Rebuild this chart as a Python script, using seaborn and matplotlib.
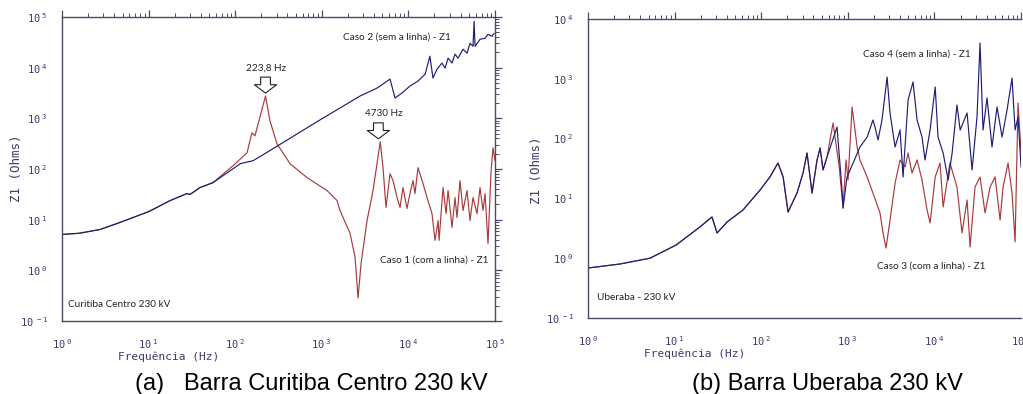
import numpy as np
import pandas as pd
import matplotlib
matplotlib.use('Agg')
import matplotlib.pyplot as plt
import matplotlib.ticker as mticker
import seaborn as sns

# (a) Barra Curitiba Centro 230 kV
freq_caso1 = [1, 1.6, 2.75, 4.67, 10.1, 17.7, 27.7, 30, 39.2, 55.4,
              94.3, 137, 156, 169, 223.8, 252, 304, 430, 675, 1150, 1500, 1620, 2120, 2420, 2620, 2840,
              3330, 3900, 4730, 5090, 5510, 6130, 6640, 7390, 8000, 8660, 9640, 10400, 11300,
              11900, 12900, 14400, 16400, 18700, 20300, 22000, 22600, 25100, 27200, 28700,
              31900, 34500, 36400, 39400, 42700, 47500, 51400, 55700, 61900, 67100, 72600,
              76700, 83000, 89900, 94800, 100000]
z_caso1 = [5.1, 5.4, 6.4, 8.8, 14.5, 23.8, 32.7, 31.3, 43, 53.8,
           116, 209, 516, 451, 2750, 889, 314, 127, 67.5, 37.5, 23.8, 15.2, 5.36, 1.81, 0.283, 1.38,
           9.64, 37.5, 344, 106, 17.4, 80.9, 58.9, 27.3, 17.4, 43, 16.6, 32.7, 58.9,
           32.7, 106, 58.9, 27.3, 13.2, 3.9, 9.6, 3.9, 43, 13.2, 37.5,
           7.0, 27.3, 11, 58.9, 15.2, 37.5, 9.6, 27.3, 13.2, 43, 15.2,
           32.7, 3.4, 88.5, 262, 146]

freq_caso2 = [1, 1.6, 2.75, 4.67, 10.1, 17.7, 27.7, 30, 39.2, 55.4,
              94.3, 114, 161, 193, 953, 2760, 4340, 6130, 7000, 8430, 10400, 12900, 15600,
              17700, 19200, 21400, 24400, 26500, 28700, 31900, 34500, 37400, 42700, 47500,
              51400, 55700, 57300, 58800, 67100, 76700, 83000, 92300, 97300]
z_caso2 = [5.1, 5.4, 6.4, 8.8, 14.5, 23.8, 32.7, 31.3, 43, 53.8,
           101, 127, 146, 175, 931, 2750, 3950, 5940, 2520, 3160, 4330, 5430, 7450,
           16800, 6220, 9350, 12300, 9770, 15400, 12300, 18400, 15400, 23100, 19300,
           30300, 26400, 82000, 26400, 36300, 38000, 45500, 41600, 47600]

# (b) Barra Uberaba 230 kV
freq_caso3 = [1, 2.34, 5.2, 10.4, 19.6, 27, 30.9, 40.3, 61.6, 96.9, 126, 156, 179, 204, 259,
              304, 338, 386, 441, 478, 517, 575,
              675, 791, 880, 953, 1005, 1120, 1280, 1380, 1670, 1950, 2350, 2550, 2760, 3070,
              3510, 4010, 4580, 4960, 5510, 6300, 7190, 8220, 8900, 10200, 11600, 12600,
              15100, 18200, 20800, 23800, 25800, 29400, 33600, 38400, 43900, 50100, 57300,
              62000, 70800, 78700, 85300, 92300, 100000]
z_caso3 = [0.685, 0.80, 1.0, 1.66, 3.33, 4.89, 2.64, 4.03, 6.4, 13.8, 22.8, 39.1, 22.8, 5.93, 12.3,
           26.6, 57.4, 12.3, 43.9, 69.7, 29.9, 49.2,
           182, 36.2, 6.9, 43.9, 20.3, 337, 72.4, 43.9, 22.8, 12.3, 5.7, 2.64, 1.48, 4.35,
           18.1, 43.9, 33.5, 57.4, 26.6, 43.9, 20.3, 6.4, 3.88, 22.8, 39.1, 7.18,
           39.1, 15.5, 2.64, 9.4, 1.54, 15.5, 22.8, 5.7, 15.5, 22.8, 4.35,
           15.5, 39.1, 12.3, 1.87, 394, 57.4]

freq_caso4 = [1, 2.34, 5.2, 10.4, 19.6, 27, 30.9, 40.3, 61.6, 96.9, 126, 156, 179, 204, 259,
              304, 338, 386, 441, 478, 517, 575,
              750, 857, 880, 979, 1150, 1380, 1670, 1950, 2060, 2230, 2480, 2840, 3070, 3510,
              4010, 4340, 4960, 5660, 6300, 7190, 7780, 8900, 10200, 11000, 12600, 14400,
              16000, 18200, 19800, 23800, 27200, 31000, 33600, 36400, 40500, 46200, 52800,
              60400, 68900, 78700, 85300, 92300, 100000]
z_caso4 = [0.685, 0.80, 1.0, 1.66, 3.33, 4.89, 2.64, 4.03, 6.4, 13.8, 22.8, 39.1, 22.8, 5.93, 12.3,
           26.6, 57.4, 12.3, 43.9, 69.7, 29.9, 49.2,
           156, 13.8, 6.9, 22.8, 39.1, 72.4, 106, 205, 156, 94.8, 205, 1070, 268, 72.4,
           139, 22.8, 442, 883, 205, 106, 43.9, 139, 730, 106, 57.4, 20.3,
           57.4, 365, 139, 268, 29.9, 230, 3970, 139, 478, 72.4, 337,
           106, 301, 1030, 139, 230, 33.5]

RED = '#a83a3a'
BLUE = '#1e1e78'
AXC = '#4a4a66'
TXC = '#3a3a6e'

sns.set_style('white')

fig = plt.figure(figsize=(10.23, 3.94), dpi=100)
ax1 = fig.add_axes([0.0606, 0.1853, 0.4233, 0.7716])
ax2 = fig.add_axes([0.5748, 0.1929, 0.4233, 0.7589])


def dec_label(v, pos):
    e = int(round(np.log10(v)))
    return r'$\mathtt{10}^{\mathtt{\ %d}}$' % e


def style_axes(ax, ymin, ymax, show_right=True):
    ax.set_xscale('log')
    ax.set_yscale('log')
    ax.set_xlim(1, 1e5)
    ax.set_ylim(ymin, ymax)
    for s in ax.spines.values():
        s.set_color(AXC)
        s.set_linewidth(1.0)
    ax.spines['right'].set_visible(show_right)
    for axis in (ax.xaxis, ax.yaxis):
        axis.set_major_locator(mticker.LogLocator(base=10, numticks=12))
        axis.set_minor_locator(mticker.LogLocator(base=10, subs=np.arange(2, 10), numticks=12))
        axis.set_minor_formatter(mticker.NullFormatter())
        axis.set_major_formatter(mticker.FuncFormatter(dec_label))
    ax.tick_params(which='both', direction='out', color=AXC, top=True, right=show_right,
                   labelsize=7.5, labelcolor=TXC)
    ax.tick_params(which='major', length=5, width=0.9)
    ax.tick_params(which='minor', length=3, width=0.7)
    ax.tick_params(axis='x', pad=7)
    ax.tick_params(axis='y', pad=5)
    ax.set_ylabel('Z1 (Ohms)', fontsize=9, color=TXC, family='DejaVu Sans Mono', va='center')
    ax.set_xlabel('Frequência (Hz)', fontsize=8, color=TXC, family='DejaVu Sans Mono',
                  ha='left', va='center')
    ax.xaxis.set_label_coords(0.129, -0.118)
    ax.grid(False)


# left panel
sns.lineplot(x=freq_caso1, y=z_caso1, ax=ax1, color=RED, linewidth=0.85, sort=False, estimator=None)
sns.lineplot(x=freq_caso2, y=z_caso2, ax=ax1, color=BLUE, linewidth=0.85, sort=False, estimator=None)
style_axes(ax1, 0.1, 1e5)
ax1.yaxis.set_label_coords(-0.106, 0.503)

tfont = dict(family=['Lato', 'DejaVu Sans'], fontsize=7.2, color='#222222')
ax1.text(0.649, 0.934, 'Caso 2 (sem a linha) - Z1', transform=ax1.transAxes, va='center', **tfont)
ax1.text(0.734, 0.201, 'Caso 1 (com a linha) - Z1', transform=ax1.transAxes, va='center', **tfont)
ax1.text(0.014, 0.053, 'Curitiba Centro 230 kV', transform=ax1.transAxes, va='center', **tfont)
ax1.text(0.471, 0.832, '223,8 Hz', transform=ax1.transAxes, va='center', ha='center', **tfont)
ax1.text(0.744, 0.684, '4730 Hz', transform=ax1.transAxes, va='center', ha='center', **tfont)

arrow = dict(arrowstyle='simple,head_width=1.6,head_length=0.6,tail_width=0.7',
             fc='white', ec='#222222', lw=0.8, shrinkA=0, shrinkB=0, mutation_scale=10)
ax1.annotate('', xy=(223.8, 3150), xytext=(223.8, 6500), arrowprops=arrow)
ax1.annotate('', xy=(4500, 394), xytext=(4500, 813), arrowprops=arrow)

# right panel
sns.lineplot(x=freq_caso3, y=z_caso3, ax=ax2, color=RED, linewidth=0.85, sort=False, estimator=None)
sns.lineplot(x=freq_caso4, y=z_caso4, ax=ax2, color=BLUE, linewidth=0.85, sort=False, estimator=None)
style_axes(ax2, 0.1, 1e4, show_right=False)
ax2.yaxis.set_label_coords(-0.120, 0.495)

ax2.text(0.635, 0.883, 'Caso 4 (sem a linha) - Z1', transform=ax2.transAxes, va='center', **tfont)
ax2.text(0.667, 0.174, 'Caso 3 (com a linha) - Z1', transform=ax2.transAxes, va='center', **tfont)
ax2.text(0.021, 0.070, 'Uberaba - 230 kV', transform=ax2.transAxes, va='center', **tfont)

# captions
cfont = dict(family='Liberation Sans', fontsize=17, color='black', va='baseline', ha='left')
fig.text(135 / 1023, 1 - 390 / 394, '(a)   Barra Curitiba Centro 230 kV', **cfont)
fig.text(692 / 1023, 1 - 390 / 394, '(b) Barra Uberaba 230 kV', **cfont)

plt.savefig('out.png', dpi=100)
